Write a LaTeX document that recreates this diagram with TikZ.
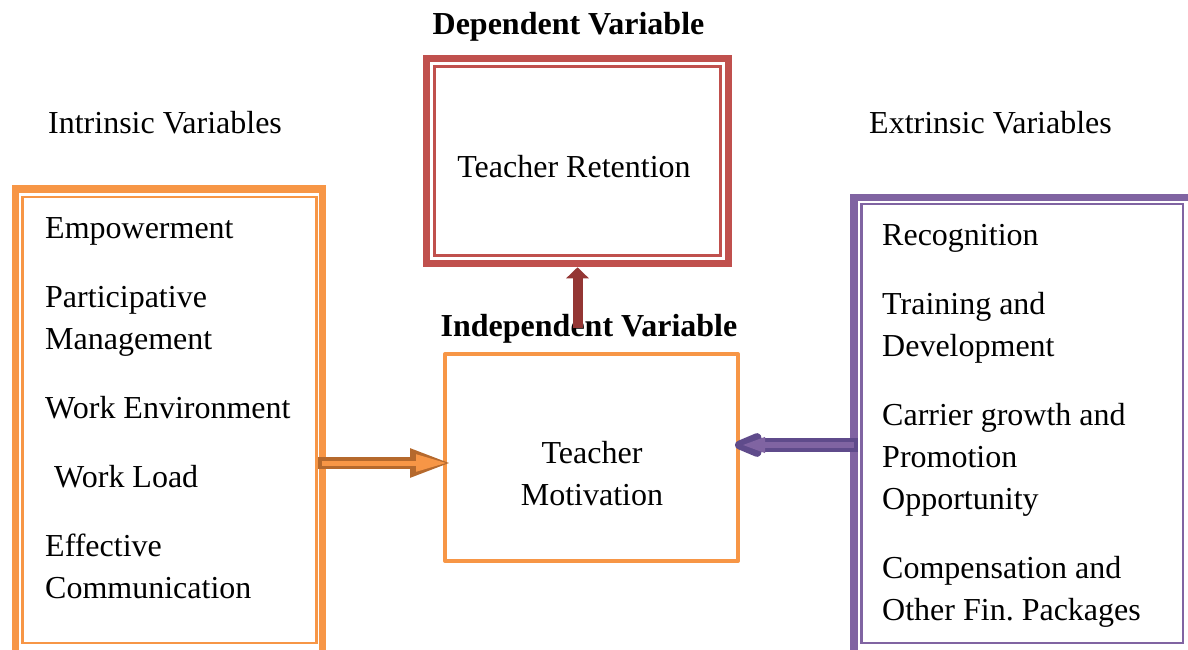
\documentclass[tikz,border=0pt]{standalone}
\usepackage{fontspec}
\setmainfont{Liberation Serif}
\usepackage{tikz}
\usetikzlibrary{arrows.meta, calc}

\definecolor{orangeF}{HTML}{F79646}
\definecolor{orangeD}{HTML}{B5692D}
\definecolor{redC}{HTML}{C0504D}
\definecolor{redD}{HTML}{943634}
\definecolor{purpleP}{HTML}{8064A2}
\definecolor{purpleD}{HTML}{5F4B8B}

\tikzset{
  txt/.style={font=\fontsize{32}{42}\selectfont, inner sep=0pt},
  head/.style={txt, font=\fontsize{32}{42}\selectfont\bfseries},
  items/.style={txt, align=left, anchor=base west},
  thickbox/.style={draw=#1, line width=7.5pt, minimum width=0pt, inner sep=0pt},
  thinline/.style={draw=#1, line width=2.5pt}
}

\begin{document}
\begin{tikzpicture}[x=1pt, y=-1pt]
    \useasboundingbox (0,0) rectangle (1188,650);

    % Intrinsic side
    \node[txt, anchor=base] (intrtitle) at (165,134) {Intrinsic Variables};
    \node[thickbox=orangeF, minimum width=307pt, minimum height=473pt] (intr) at (169,425.5) {};
    \draw[thinline=orangeF] (22.3,197) rectangle (316.5,643);
    \node[items] (intrlist) at (45,598) {Empowerment\\[27pt]
        Participative\\Management\\[27pt]
        Work Environment\\[27pt]
        \hspace*{9pt}Work Load\\[27pt]
        Effective\\Communication};

    % Dependent variable
    \node[head, anchor=base] (deptitle) at (568.5,34.5) {Dependent Variable};
    \node[thickbox=redC, minimum width=302pt, minimum height=205pt] (ret) at (577.5,161) {};
    \draw[thinline=redC] (434.5,66.5) rectangle (720.5,255.5);
    \node[txt, anchor=base] (rettext) at (574,177) {Teacher Retention};

    % Independent variable
    \node[head, anchor=base] (indtitle) at (589,336) {Independent Variable};
    \node[draw=orangeF, line width=4pt, line join=round, minimum width=293pt, minimum height=207pt] (mot) at (591.5,457.5) {};
    \node[txt, align=center, anchor=base] (mottext) at (592,505) {Teacher\\Motivation};

    % Extrinsic side
    \node[txt, anchor=base] (extrtitle) at (990.5,134) {Extrinsic Variables};
    \node[thickbox=purpleP, minimum width=342pt, minimum height=464.5pt] (extr) at (1025,429.75) {};
    \draw[thinline=purpleP] (861.3,204) rectangle (1183,643);
    \node[items] (extrlist) at (882,620) {Recognition\\[27pt]
        Training and\\Development\\[27pt]
        Carrier growth and\\Promotion\\Opportunity\\[27pt]
        Compensation and\\Other Fin.\ Packages};

    % Arrows
    \coordinate (la) at (318,463);
    \coordinate (ra) at (858,445);
    \draw[orangeD, line width=12pt, -{Triangle[length=42pt, width=26pt]},
          postaction={draw=orangeF, line width=5pt, shorten <=3.5pt, shorten >=5pt,
                      -{Triangle[length=31pt, width=16pt]}}]
        (la) -- ($(mot.west |- la)+(9,0)$);
    \draw[purpleD, line width=14pt, -{Triangle[length=35pt, width=25pt, round]},
          postaction={draw=purpleP, line width=6pt, shorten <=4pt, shorten >=6pt,
                      -{Triangle[length=24pt, width=14pt]}}]
        (ra) -- ($(mot.east |- ra)+(-5,0)$);
    \draw[redD, line width=10pt, -{Triangle[length=11pt, width=22pt]}]
        (ret.south |- indtitle.center) -- (ret.south);
\end{tikzpicture}
\end{document}
